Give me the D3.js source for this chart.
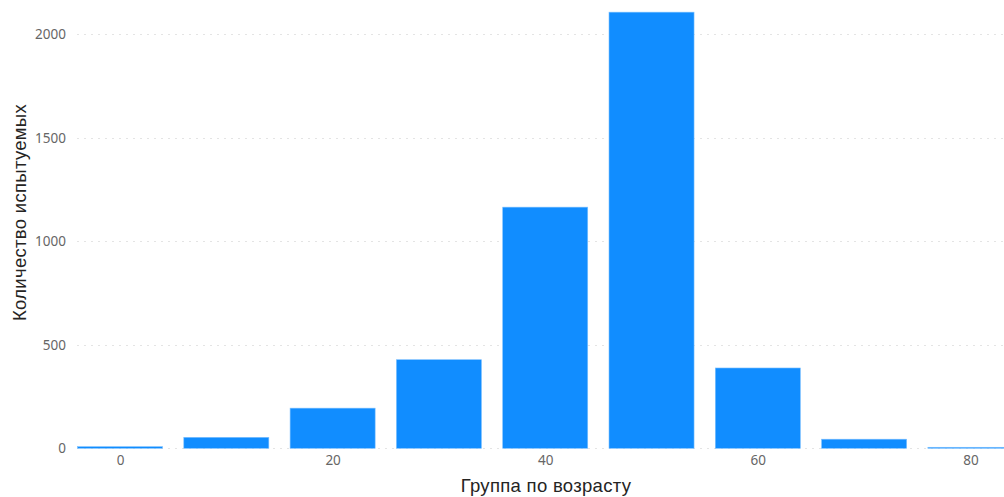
<!DOCTYPE html>
<html>
<head>
<meta charset="utf-8">
<script src="https://cdn.jsdelivr.net/npm/d3@7"></script>
<style>
  html, body { margin: 0; padding: 0; background: #ffffff; }
  svg { display: block; }
</style>
</head>
<body>
<svg id="chart" width="1004" height="497"></svg>
<script>
// Age groups (bin centres, years) and number of subjects in each group
const ageGroups = [0, 10, 20, 30, 40, 50, 60, 70, 80];
const subjects = [8, 53, 194, 428, 1165, 2107, 388, 44, 5];
const yTicks = [0, 500, 1000, 1500, 2000];
const xTicks = [0, 20, 40, 60, 80];
const xTitle = "Группа по возрасту";
const yTitle = "Количество испытуемых";

const svg = d3.select("#chart");
const W = 1004, H = 497;
const left = 77.5;
const binHalf = 4;

const x = d3.scaleLinear().domain([-4, 84]).range([left, left + 88 * 10.63]);
const y = d3.scaleLinear().domain([0, 2000]).range([448.3, 34.3]);

const tickFont = "'Segoe UI', 'Noto Sans', sans-serif";
const titleFont = "'Liberation Sans', Arial, sans-serif";

// horizontal dotted gridlines
svg.append("g")
  .selectAll("line")
  .data(yTicks)
  .join("line")
  .attr("x1", left)
  .attr("x2", W)
  .attr("y1", d => Math.round(y(d)) + 0.5)
  .attr("y2", d => Math.round(y(d)) + 0.5)
  .attr("stroke", "#c8c8c8")
  .attr("stroke-width", 1)
  .attr("stroke-dasharray", "1,6");

// y axis labels
const yAxis = svg.append("g")
  .attr("transform", `translate(66,0)`)
  .call(d3.axisLeft(y).tickValues(yTicks).tickSize(0).tickPadding(0).tickFormat(d3.format("d")));
yAxis.select(".domain").remove();
yAxis.selectAll("text")
  .attr("fill", "#666666")
  .style("font-family", tickFont)
  .style("font-size", "13.5px");

// x axis labels
const xAxis = svg.append("g")
  .attr("transform", `translate(0,455)`)
  .call(d3.axisBottom(x).tickValues(xTicks).tickSize(0).tickPadding(0).tickFormat(d3.format("d")));
xAxis.select(".domain").remove();
xAxis.selectAll("text")
  .attr("fill", "#666666")
  .style("font-family", tickFont)
  .style("font-size", "13.5px");

// bars
svg.append("g")
  .selectAll("rect")
  .data(ageGroups.map((a, i) => ({ age: a, n: subjects[i] })))
  .join("rect")
  .attr("x", d => x(d.age - binHalf))
  .attr("width", d => x(d.age + binHalf) - x(d.age - binHalf))
  .attr("y", d => y(d.n))
  .attr("height", d => y(0) - y(d.n))
  .attr("fill", "#118dff")
  .attr("stroke", "#7cc0ff")
  .attr("stroke-width", 0.6);

// axis titles
svg.append("text")
  .attr("x", 546)
  .attr("y", 491.5)
  .attr("text-anchor", "middle")
  .attr("fill", "#252423")
  .style("font-family", titleFont)
  .style("font-size", "18.5px")
  .style("letter-spacing", "0.3px")
  .text(xTitle);

svg.append("text")
  .attr("transform", `translate(25.5,212.5) rotate(-90)`)
  .attr("text-anchor", "middle")
  .attr("fill", "#252423")
  .style("font-family", titleFont)
  .style("font-size", "18.5px")
  .style("letter-spacing", "0.3px")
  .text(yTitle);
</script>
</body>
</html>
